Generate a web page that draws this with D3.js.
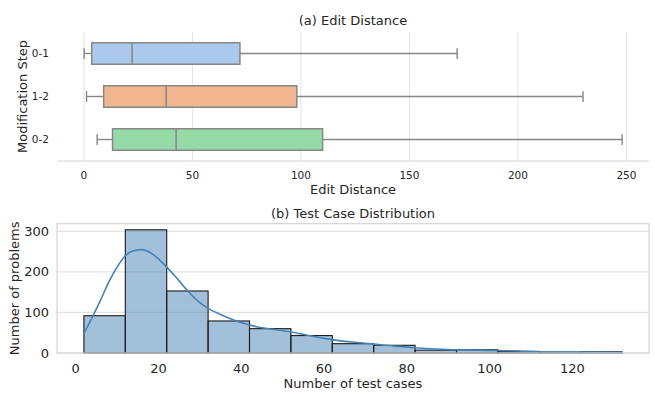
<!DOCTYPE html>
<html lang="en">
<head>
<meta charset="UTF-8">
<title>Edit Distance and Test Case Distribution</title>
<script src="https://d3js.org/d3.v7.min.js"></script>
<style>
    body { margin: 0; padding: 0; background: #fff; }
    svg { display: block; font-family: "DejaVu Sans", sans-serif; }
    text { fill: #262626; }
</style>
</head>
<body>
<script>
    // (a) box plot stats per modification step
    const steps = ["0-1", "1-2", "0-2"];
    const whiskLow = [0.1, 1.2, 6.1];
    const q1 = [3.6, 9.1, 13.2];
    const median = [22.2, 37.9, 42.5];
    const q3 = [71.9, 98.1, 110];
    const whiskHigh = [172, 230, 248];
    const boxColors = ["#abc9eb", "#f0b68f", "#96dba7"];
    const editTicks = [0, 50, 100, 150, 200, 250];

    // (b) histogram of test cases (bin width 10 starting at 2)
    const binEdges = [2, 12, 22, 32, 42, 52, 62, 72, 82, 92, 102, 112, 122, 132];
    const binCounts = [92, 304, 153, 79, 60, 43, 23, 19, 7, 8, 4, 2, 3];
    const kdeX = [2, 4, 6, 8, 10, 12, 14, 16, 18, 20, 22, 24, 26, 28, 30, 32, 35, 38, 41, 44, 48, 52, 56, 60, 64, 68, 72, 77, 82, 87, 92, 97, 102, 107, 112, 117, 122, 127, 132];
    const kdeY = [48, 88, 130, 175, 212, 240, 252, 255, 248, 232, 212, 190, 166, 143, 124, 110, 95, 82, 72, 64, 58, 52, 44, 36, 30, 26, 22, 17, 13, 10, 8, 7, 6, 5, 3, 2.5, 2.5, 2, 2];
    const caseTicks = [0, 20, 40, 60, 80, 100, 120];
    const countTicks = [0, 100, 200, 300];

    const W = 655, H = 394;
    const svg = d3.select("body").append("svg").attr("width", W).attr("height", H);

    const left = 57, right = 649;
    const edgeGray = "#878787";
    const labelSize = 13;

    // ---------- (a) Edit Distance ----------
    const top1 = 32, bot1 = 161;
    const x1 = d3.scaleLinear().domain([-12.4, 260.4]).range([left, right]);
    const y1 = d3.scaleBand().domain(steps).range([top1, bot1]).padding(0);

    const g1 = svg.append("g");

    // vertical grid
    g1.selectAll(".vgrid").data(editTicks).enter().append("line")
        .attr("x1", d => x1(d)).attr("x2", d => x1(d))
        .attr("y1", top1).attr("y2", bot1)
        .attr("stroke", "#e3e3e3").attr("stroke-width", 1);

    // bottom spine
    g1.append("line").attr("x1", left).attr("x2", right)
        .attr("y1", bot1).attr("y2", bot1)
        .attr("stroke", "#d4d4d4").attr("stroke-width", 1.2);

    const bh = y1.bandwidth() * 0.5;
    const boxes = g1.selectAll(".box").data(steps).enter().append("g");

    boxes.append("line")
        .attr("x1", (d, i) => x1(whiskLow[i])).attr("x2", (d, i) => x1(q1[i]))
        .attr("y1", d => y1(d) + y1.bandwidth() / 2).attr("y2", d => y1(d) + y1.bandwidth() / 2)
        .attr("stroke", edgeGray).attr("stroke-width", 1.4);
    boxes.append("line")
        .attr("x1", (d, i) => x1(q3[i])).attr("x2", (d, i) => x1(whiskHigh[i]))
        .attr("y1", d => y1(d) + y1.bandwidth() / 2).attr("y2", d => y1(d) + y1.bandwidth() / 2)
        .attr("stroke", edgeGray).attr("stroke-width", 1.4);
    [whiskLow, whiskHigh].forEach(arr => {
        boxes.append("line")
            .attr("x1", (d, i) => x1(arr[i])).attr("x2", (d, i) => x1(arr[i]))
            .attr("y1", d => y1(d) + y1.bandwidth() / 2 - bh / 4)
            .attr("y2", d => y1(d) + y1.bandwidth() / 2 + bh / 4)
            .attr("stroke", edgeGray).attr("stroke-width", 1.4);
    });
    boxes.append("rect")
        .attr("x", (d, i) => x1(q1[i]))
        .attr("width", (d, i) => x1(q3[i]) - x1(q1[i]))
        .attr("y", d => y1(d) + (y1.bandwidth() - bh) / 2)
        .attr("height", bh)
        .attr("fill", (d, i) => boxColors[i])
        .attr("stroke", edgeGray).attr("stroke-width", 1.5);
    boxes.append("line")
        .attr("x1", (d, i) => x1(median[i])).attr("x2", (d, i) => x1(median[i]))
        .attr("y1", d => y1(d) + (y1.bandwidth() - bh) / 2)
        .attr("y2", d => y1(d) + (y1.bandwidth() + bh) / 2)
        .attr("stroke", edgeGray).attr("stroke-width", 1.5);

    // tick labels
    g1.selectAll(".xt").data(editTicks).enter().append("text")
        .attr("x", d => x1(d)).attr("y", 175).attr("dy", "0.35em")
        .attr("text-anchor", "middle").attr("font-size", 10.5).text(d => d);
    g1.selectAll(".yt").data(steps).enter().append("text")
        .attr("x", 49).attr("y", d => y1(d) + y1.bandwidth() / 2).attr("dy", "0.35em")
        .attr("text-anchor", "end").attr("font-size", 10.5).text(d => d);

    g1.append("text").attr("x", (left + right) / 2).attr("y", 189).attr("dy", "0.35em")
        .attr("text-anchor", "middle").attr("font-size", labelSize).text("Edit Distance");
    g1.append("text").attr("transform", `translate(22,${(top1 + bot1) / 2}) rotate(-90)`)
        .attr("dy", "0.35em").attr("text-anchor", "middle").attr("font-size", labelSize)
        .text("Modification Step");
    g1.append("text").attr("x", (left + right) / 2).attr("y", 20).attr("dy", "0.35em")
        .attr("text-anchor", "middle").attr("font-size", labelSize).text("(a) Edit Distance");

    // ---------- (b) Test Case Distribution ----------
    const top2 = 223.7, bot2 = 353;
    const x2 = d3.scaleLinear().domain([-4.5, 138.5]).range([left, right]);
    const y2 = d3.scaleLinear().domain([0, 319]).range([bot2, top2]);

    const g2 = svg.append("g");

    g2.selectAll(".hgrid").data(countTicks).enter().append("line")
        .attr("x1", left).attr("x2", right)
        .attr("y1", d => y2(d)).attr("y2", d => y2(d))
        .attr("stroke", "#e3e3e3").attr("stroke-width", 1.2);

    g2.selectAll(".bar").data(binCounts).enter().append("rect")
        .attr("x", (d, i) => x2(binEdges[i]))
        .attr("width", (d, i) => x2(binEdges[i + 1]) - x2(binEdges[i]))
        .attr("y", d => y2(d))
        .attr("height", d => bot2 - y2(d))
        .attr("fill", "#4682b4").attr("fill-opacity", 0.5)
        .attr("stroke", "#1a1a1a").attr("stroke-width", 1.1);

    const kdeLine = d3.line()
        .x((d, i) => x2(kdeX[i]))
        .y(d => y2(d))
        .curve(d3.curveMonotoneX);
    g2.append("path").datum(kdeY).attr("d", kdeLine)
        .attr("fill", "none").attr("stroke", "#4682b4").attr("stroke-width", 1.6);

    // frame
    g2.append("rect").attr("x", left).attr("y", top2)
        .attr("width", right - left).attr("height", bot2 - top2)
        .attr("fill", "none").attr("stroke", "#d4d4d4").attr("stroke-width", 1.2);

    g2.selectAll(".xt").data(caseTicks).enter().append("text")
        .attr("x", d => x2(d)).attr("y", 368).attr("dy", "0.35em")
        .attr("text-anchor", "middle").attr("font-size", labelSize).text(d => d);
    g2.selectAll(".yt").data(countTicks).enter().append("text")
        .attr("x", 49).attr("y", d => y2(d)).attr("dy", "0.35em")
        .attr("text-anchor", "end").attr("font-size", labelSize).text(d => d);

    g2.append("text").attr("x", (left + right) / 2).attr("y", 383).attr("dy", "0.35em")
        .attr("text-anchor", "middle").attr("font-size", labelSize).text("Number of test cases");
    g2.append("text").attr("transform", `translate(14,${(top2 + bot2) / 2}) rotate(-90)`)
        .attr("dy", "0.35em").attr("text-anchor", "middle").attr("font-size", labelSize)
        .text("Number of problems");
    g2.append("text").attr("x", (left + right) / 2).attr("y", 213).attr("dy", "0.35em")
        .attr("text-anchor", "middle").attr("font-size", labelSize).text("(b) Test Case Distribution");
</script>
</body>
</html>
